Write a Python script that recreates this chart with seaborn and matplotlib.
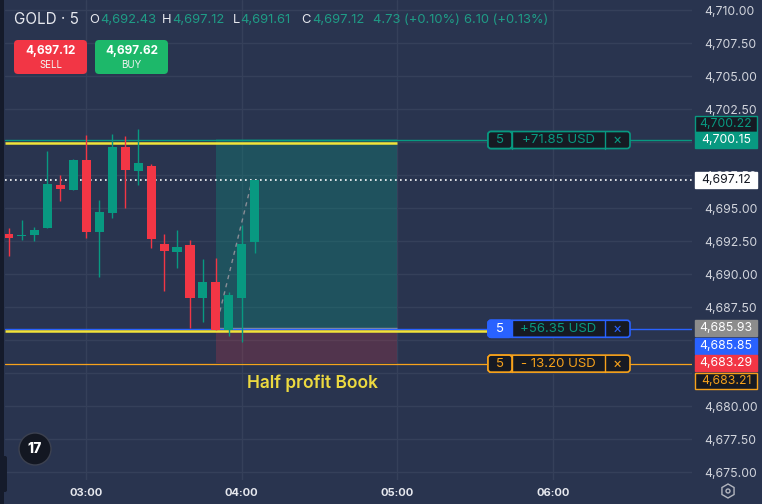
import matplotlib
matplotlib.use('Agg')
import matplotlib.pyplot as plt
from matplotlib.patches import Rectangle, FancyBboxPatch, Circle, RegularPolygon
from matplotlib.transforms import IdentityTransform
import numpy as np
import pandas as pd
import seaborn as sns

# 5 minute candles, GOLD
times = ['02:30', '02:35', '02:40', '02:45', '02:50', '02:55', '03:00', '03:05', '03:10', '03:15',
         '03:20', '03:25', '03:30', '03:35', '03:40', '03:45', '03:50', '03:55', '04:00', '04:05']
opens = [4693.03, 4692.85, 4692.95, 4693.51, 4696.74, 4696.36, 4698.64, 4693.21, 4694.65, 4699.62,
         4697.80, 4698.18, 4692.27, 4691.67, 4692.20, 4688.18, 4689.39, 4685.76, 4688.18, 4692.43]
highs = [4693.48, 4694.09, 4693.56, 4699.32, 4697.50, 4698.71, 4700.53, 4695.61, 4700.61, 4700.45,
         4700.98, 4698.33, 4693.03, 4693.33, 4692.58, 4691.14, 4691.21, 4688.64, 4693.71, 4697.12]
lows = [4691.39, 4692.58, 4692.50, 4693.51, 4695.53, 4696.36, 4692.75, 4689.80, 4694.27, 4695.03,
        4696.74, 4691.97, 4688.71, 4690.45, 4685.91, 4686.36, 4685.76, 4685.30, 4684.85, 4691.61]
closes = [4692.75, 4692.86, 4693.33, 4696.82, 4696.44, 4698.64, 4693.21, 4694.70, 4699.62, 4697.88,
          4698.41, 4692.65, 4691.74, 4692.05, 4688.18, 4689.39, 4685.76, 4688.41, 4692.27, 4697.12]

tick_times = ['03:00', '04:00', '05:00', '06:00']
hidden_ticks = [4700.0, 4685.0, 4682.5]   # covered by the price labels

# levels on the chart
tp_level = 4700.15
tp_label = 4700.22
last_price = 4697.12
entry_level = 4685.93
order_level = 4685.85
bid_level = 4683.29
sl_level = 4683.21
yellow_top = 4699.95
yellow_bottom = 4685.65
pos_start, pos_end = '03:50', '05:00'

header_values = ['4,692.43', '4,697.12', '4,691.61', '4,697.12', '4.73 (+0.10%)', '6.10 (+0.13%)']
sell_price, buy_price = '4,697.12', '4,697.62'
order_pnl = ['+71.85 USD', '+56.35 USD', '- 13.20 USD']
order_qty = '5'
note_text = 'Half profit Book'

BG = '#29344f'
GRID = '#35405a'
UP = '#089981'
DOWN = '#f23645'
DARK = '#161a23'
ORANGE = '#f7a21b'
BLUE = '#2962ff'
TXT = '#d1d4dc'


def to_min(s):
    h, m = s.split(':')
    return int(h) * 60 + int(m)


df = pd.DataFrame({'t': [to_min(t) for t in times], 'open': opens, 'high': highs,
                   'low': lows, 'close': closes})

sns.set_theme(style='dark', rc={'axes.facecolor': BG, 'figure.facecolor': BG,
                                'grid.color': GRID, 'axes.edgecolor': BG})
plt.rcParams['font.family'] = ['Inter', 'DejaVu Sans']

W, H = 762, 504
fig = plt.figure(figsize=(W / 100, H / 100), dpi=100)
ax = fig.add_axes([5 / W, 24 / H, 687 / W, 480 / H])
ax.set_xlim(148.63, 413.7)
ax.set_ylim(4674.394, 4710.758)
for s in ax.spines.values():
    s.set_visible(False)

ax.set_yticks(np.arange(4675, 4710.01, 2.5))
ax.yaxis.tick_right()
ax.yaxis.set_major_formatter(plt.FuncFormatter(
    lambda v, p: '' if any(abs(v - h) < 0.01 for h in hidden_ticks) else f'{v:,.2f}'))
ax.tick_params(axis='y', length=0, pad=9, labelsize=8.8, labelcolor=TXT)
ax.set_xticks([to_min(t) for t in tick_times])
ax.set_xticklabels(tick_times)
ax.tick_params(axis='x', length=0, pad=6, labelsize=8, labelcolor='#e6e8ee')
for lbl in ax.get_xticklabels():
    lbl.set_fontweight('bold')
ax.grid(True, color=GRID, lw=1)
ax.set_axisbelow(True)

# long position tool
t0, t1 = to_min(pos_start), to_min(pos_end)
ax.add_patch(Rectangle((t0, entry_level), t1 - t0, tp_label - entry_level,
                       facecolor=UP, alpha=0.3, lw=0, zorder=1.5))
ax.add_patch(Rectangle((t0, bid_level), t1 - t0, entry_level - bid_level,
                       facecolor=DOWN, alpha=0.2, lw=0, zorder=1.5))
ax.hlines(entry_level, t0, t1, color='#8a8d96', lw=1, zorder=2)
ax.plot([t0, to_min(times[-1]) - 1], [entry_level, last_price], color='#8a8d96',
        lw=1, ls=(0, (3, 3)), zorder=2.5)

# horizontal lines
ax.axhline(tp_level, color=UP, lw=1, zorder=2)
ax.axhline(order_level, color=BLUE, lw=1, zorder=2)
ax.axhline(sl_level, color=ORANGE, lw=0.9, zorder=2)
ax.hlines(yellow_top, 148.63, t1, color='#f2e33a', lw=1.8, zorder=2.2)
ax.hlines(yellow_bottom, 148.63, 335, color='#f2e33a', lw=1.8, zorder=2.2)
ax.axhline(last_price, color='white', lw=1.2, ls=(0, (1, 2)), zorder=2.3)

# candles
for _, r in df.iterrows():
    col = UP if r['close'] >= r['open'] else DOWN
    ax.vlines(r['t'], r['low'], r['high'], color=col, lw=1, zorder=3)
    ax.bar(r['t'], max(abs(r['close'] - r['open']), 0.07), bottom=min(r['open'], r['close']),
           width=3.5, color=col, lw=0, zorder=4)


def ypix(p):
    return ax.transData.transform((0, p))[1]


ID = IdentityTransform()

# order boxes on the lines
order_rows = [(tp_level, UP, DARK, UP, UP), (order_level, BLUE, BLUE, UP, BLUE),
              (sl_level, ORANGE, DARK, ORANGE, ORANGE)]
for (lvl, edge, qfill, pcol, xcol), pnl in zip(order_rows, order_pnl):
    yc = ypix(lvl)
    fig.patches.append(FancyBboxPatch((488, yc - 8.5), 142, 17, boxstyle='round,pad=0,rounding_size=3',
                                      facecolor=DARK, edgecolor=edge, lw=1.2, transform=ID, zorder=5))
    fig.patches.append(FancyBboxPatch((488, yc - 8.5), 24, 17, boxstyle='round,pad=0,rounding_size=3',
                                      facecolor=qfill, edgecolor=edge, lw=1.2, transform=ID, zorder=5))
    fig.lines.append(plt.Line2D([512, 512], [yc - 8.5, yc + 8.5], color=edge, lw=1, transform=ID, zorder=6))
    fig.lines.append(plt.Line2D([605, 605], [yc - 8.5, yc + 8.5], color=edge, lw=1, transform=ID, zorder=6))
    qcol = 'white' if qfill == BLUE else edge
    fig.text(500 / W, yc / H, order_qty, color=qcol, fontsize=9.5, ha='center', va='center', zorder=7)
    fig.text(558 / W, yc / H, pnl, color=pcol, fontsize=9.5, ha='center', va='center', zorder=7)
    fig.text(617.5 / W, yc / H, '×', color=xcol, fontsize=10, ha='center', va='center', zorder=7)

# price scale labels
price_labels = [(tp_label, DARK, UP, UP, 15), (tp_level, UP, 'white', UP, 0),
                (last_price, 'white', '#131722', 'white', 0), (entry_level, '#8c8c8c', 'white', '#8c8c8c', 0),
                (order_level, BLUE, 'white', BLUE, -17), (bid_level, DOWN, 'white', DOWN, 0),
                (sl_level, DARK, ORANGE, ORANGE, -17)]
for val, fill, tcol, edge, off in price_labels:
    yc = ypix(val) + off
    fig.patches.append(Rectangle((695, yc - 8), 62, 16, facecolor=fill, edgecolor=edge, lw=1,
                                 transform=ID, zorder=5))
    fig.text(726 / W, yc / H, f'{val:,.2f}', color=tcol, fontsize=8.8, ha='center', va='center', zorder=7)

# header
fig.text(14 / W, 1 - 20 / H, 'GOLD · 5', color='#e6e8ee', fontsize=11, va='center')
for lab, x in zip(['O', 'H', 'L', 'C'], [89, 162, 233, 301]):
    fig.text(x / W, 1 - 20 / H, lab, color='#e6e8ee', fontsize=9.3, va='center')
for val, x in zip(header_values, [100, 172, 240, 312, 373, 464]):
    fig.text(x / W, 1 - 20 / H, val, color='#1f9c86', fontsize=9.3, va='center')

for x0, col, price, lab in [(14, DOWN, sell_price, 'SELL'), (95, '#1db86a', buy_price, 'BUY')]:
    fig.patches.append(FancyBboxPatch((x0, H - 74), 73, 34, boxstyle='round,pad=0,rounding_size=4',
                                      facecolor=col, lw=0, transform=ID, zorder=5))
    fig.text((x0 + 36.5) / W, 1 - 51 / H, price, color='white', fontsize=8.5, fontweight='bold',
             ha='center', va='center', zorder=7)
    fig.text((x0 + 36.5) / W, 1 - 65 / H, lab, color='#f2f2f2', fontsize=7, ha='center', va='center', zorder=7)

fig.text(312.5 / W, 1 - 383 / H, note_text, color='#ecd940', fontsize=12.5, fontweight='semibold',
         ha='center', va='center')

# left toolbar edge, logo, settings icon
fig.patches.append(Rectangle((0, 0), 4, H, facecolor='#151b2b', lw=0, transform=ID, zorder=5))
fig.patches.append(FancyBboxPatch((0, H - 492), 7, 36, boxstyle='round,pad=0,rounding_size=2',
                                  facecolor='#151b2b', lw=0, transform=ID, zorder=5))
fig.patches.append(Circle((35, H - 449), 16, facecolor='#131722', edgecolor='#3c4150', lw=1,
                          transform=ID, zorder=5))
fig.text(35 / W, 1 - 449 / H, '17', color='white', fontsize=10, fontweight='heavy',
         ha='center', va='center', zorder=7)
fig.patches.append(RegularPolygon((728, H - 491), 6, radius=7, facecolor='none', edgecolor='#b2b5be',
                                  lw=1, transform=ID, zorder=5))
fig.patches.append(Circle((728, H - 491), 2, facecolor='none', edgecolor='#b2b5be', lw=1,
                          transform=ID, zorder=5))

fig.savefig('out.png', dpi=100, facecolor=BG)
